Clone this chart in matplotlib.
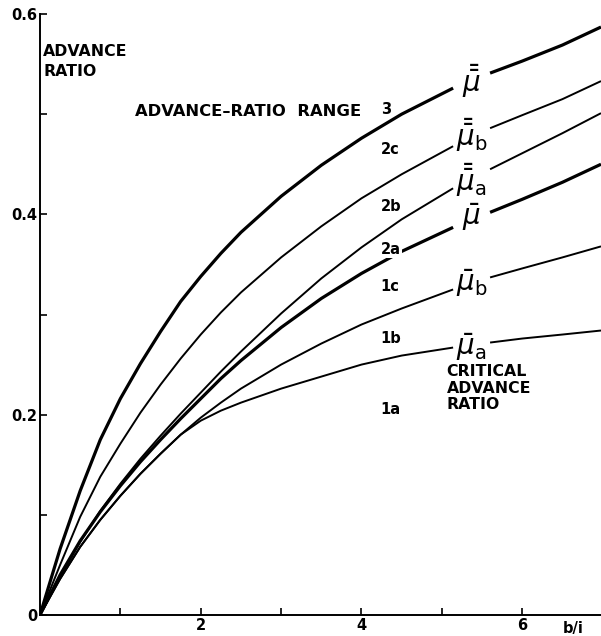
import numpy as np
import matplotlib
matplotlib.use("Agg")
import matplotlib.pyplot as plt

# values (b/i, advance ratio)
b_i = [0, 0.25, 0.5, 0.75, 1.0, 1.25, 1.5, 1.75, 2.0, 2.25, 2.5, 3.0, 3.5, 4.0, 4.5,
       5.14, 5.6, 6.0, 6.5, 6.98]

mu2 = [0, 0.066, 0.124, 0.175, 0.216, 0.251, 0.283, 0.313, 0.338, 0.361, 0.382, 0.418,
       0.449, 0.476, 0.500, 0.526, 0.541, 0.553, 0.569, 0.587]
mu2_b = [0, 0.050, 0.098, 0.138, 0.171, 0.202, 0.230, 0.256, 0.280, 0.302, 0.322, 0.357,
         0.388, 0.416, 0.440, 0.468, 0.486, 0.499, 0.515, 0.533]
mu2_a = [0, 0.038, 0.073, 0.104, 0.131, 0.156, 0.179, 0.201, 0.222, 0.243, 0.263, 0.301,
         0.336, 0.367, 0.395, 0.426, 0.445, 0.461, 0.481, 0.501]
mu1 = [0, 0.040, 0.074, 0.103, 0.129, 0.153, 0.175, 0.196, 0.216, 0.236, 0.254, 0.287,
       0.316, 0.341, 0.363, 0.387, 0.402, 0.415, 0.432, 0.450]
mu1_b = [0, 0.036, 0.068, 0.095, 0.119, 0.141, 0.161, 0.180, 0.197, 0.212, 0.226, 0.250,
         0.271, 0.290, 0.306, 0.325, 0.337, 0.346, 0.357, 0.368]
mu1_a = [0, 0.036, 0.068, 0.095, 0.119, 0.141, 0.161, 0.180, 0.194, 0.204, 0.212, 0.226,
         0.238, 0.250, 0.259, 0.267, 0.272, 0.276, 0.280, 0.284]

range_labels = ['3', '2c', '2b', '2a', '1c', '1b', '1a']
range_y = [0.505, 0.465, 0.408, 0.365, 0.328, 0.276, 0.205]

curves = [
    (mu2, 2.3, r'$\bar{\bar{\mu}}$', 0.533),
    (mu2_b, 1.4, r'$\bar{\bar{\mu}}_\mathrm{b}$', 0.479),
    (mu2_a, 1.4, r'$\bar{\bar{\mu}}_\mathrm{a}$', 0.434),
    (mu1, 2.3, r'$\bar{\mu}$', 0.397),
    (mu1_b, 1.4, r'$\bar{\mu}_\mathrm{b}$', 0.331),
    (mu1_a, 1.4, r'$\bar{\mu}_\mathrm{a}$', 0.267),
]

plt.rcParams['font.family'] = ['DejaVu Sans']
plt.rcParams['mathtext.fontset'] = 'dejavusans'

fig = plt.figure(figsize=(6.01, 6.36), dpi=100)
ax = fig.add_axes([40 / 601, 21 / 636, 561 / 601, 601 / 636])

xs = np.array(b_i)
gap0, gap1 = 5.14, 5.60
left = xs <= gap0
right = xs >= gap1
for ys, lw, lab, ly in curves:
    ys = np.array(ys)
    ax.plot(xs[left], ys[left], color='black', lw=lw, solid_capstyle='butt')
    ax.plot(xs[right], ys[right], color='black', lw=lw, solid_capstyle='butt')
    ax.text(5.37, ly, lab, fontsize=20, ha='center', va='center')

for lab, yy in zip(range_labels, range_y):
    bbox = dict(facecolor='white', edgecolor='none', pad=0.5) if lab == '2a' else None
    ax.text(4.24, yy, lab, fontsize=10.5, fontweight='bold', ha='left', va='center',
            bbox=bbox, zorder=5)

txt = dict(fontsize=11.3, fontweight='bold', ha='left', va='center')
ax.text(1.18, 0.503, 'ADVANCE–RATIO  RANGE', fontsize=11.8, fontweight='bold',
        ha='left', va='center')
ax.text(0.04, 0.563, 'ADVANCE', **txt)
ax.text(0.04, 0.543, 'RATIO', **txt)
ax.text(5.06, 0.243, 'CRITICAL', **txt)
ax.text(5.06, 0.226, 'ADVANCE', **txt)
ax.text(5.06, 0.210, 'RATIO', **txt)

ax.set_xlim(0, 6.98)
ax.set_ylim(0, 0.6)
ax.spines['top'].set_visible(False)
ax.spines['right'].set_visible(False)
ax.spines['left'].set_linewidth(1.4)
ax.spines['bottom'].set_linewidth(1.4)

ax.set_xticks([1, 2, 3, 4, 5, 6])
ax.set_xticklabels(['', '2', '', '4', '', '6'])
ax.set_yticks([0, 0.1, 0.2, 0.3, 0.4, 0.5, 0.6])
ax.set_yticklabels(['0', '', '0.2', '', '0.4', '', '0.6'])
ax.tick_params(direction='in', length=5, width=1.2, labelsize=10.5, pad=2)
for t in ax.get_xticklabels() + ax.get_yticklabels():
    t.set_fontweight('bold')
ax.text(6.63, -0.013, 'b/i', fontsize=10.5, fontweight='bold', ha='center', va='center',
        clip_on=False)

fig.savefig('out.png', dpi=100)
